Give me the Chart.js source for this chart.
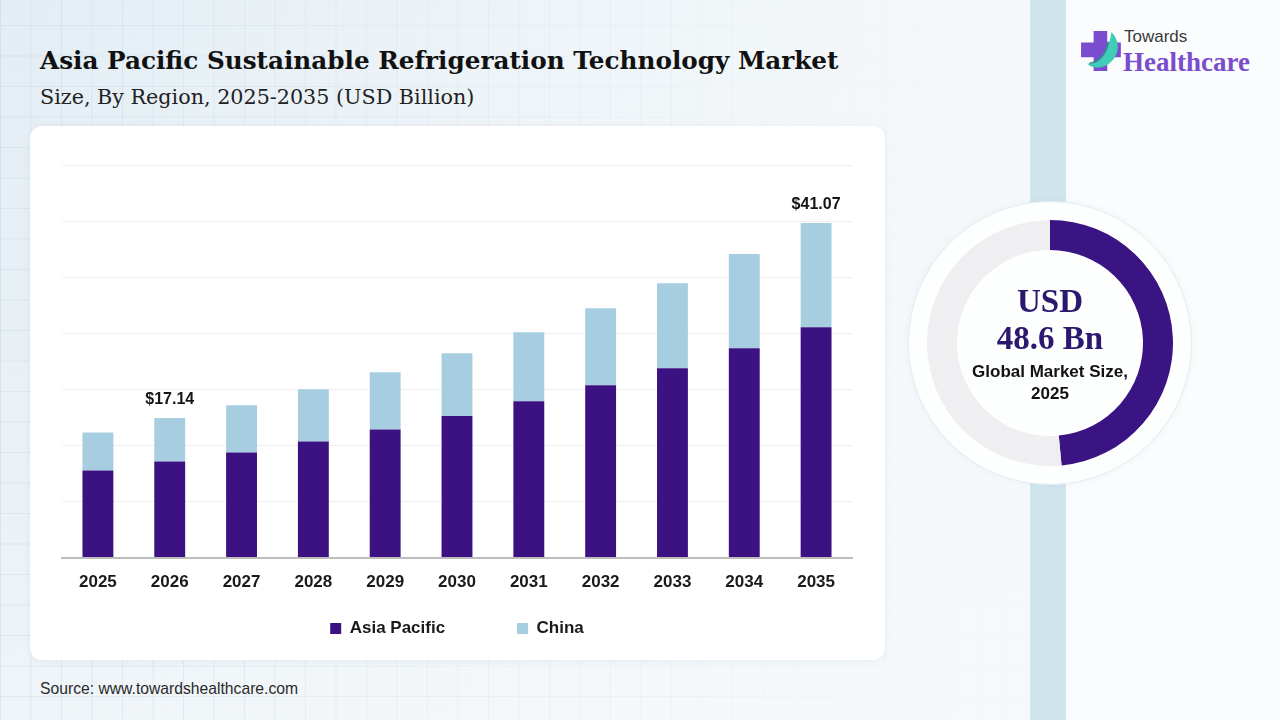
<!DOCTYPE html>
<html>
<head>
<meta charset="utf-8">
<script src="https://cdn.jsdelivr.net/npm/chart.js@4.4.1/dist/chart.umd.min.js"></script>
<style>
  body {
    margin: 0;
    width: 1280px;
    height: 720px;
    position: relative;
    overflow: hidden;
    background: #fafcfd;
    font-family: "Liberation Sans", Arial, sans-serif;
  }
  .left-bg {
    position: absolute; left: 0; top: 0; width: 1030px; height: 720px;
    background:
      linear-gradient(90deg, rgba(246,249,251,0) 0%, rgba(246,249,251,0.55) 60%, rgba(246,249,251,0.9) 100%),
      linear-gradient(rgba(190,208,220,0.35) 1px, transparent 1px) 0 25px / 30.5px 30.5px,
      linear-gradient(90deg, rgba(190,208,220,0.35) 1px, transparent 1px) 0 0 / 30.5px 30.5px,
      linear-gradient(160deg, #e2edf4 0%, #ebf2f7 45%, #f4f8fa 100%);
  }
  .band { position: absolute; left: 1030px; top: 0; width: 36px; height: 720px; background: #cfe5ec; }
  .title {
    position: absolute; left: 40px; top: 49px; margin: 0;
    font: bold 24.7px "DejaVu Serif", serif; line-height: 1; color: #111;
  }
  .subtitle {
    position: absolute; left: 40px; top: 87px; margin: 0;
    font: 20.7px "DejaVu Serif", serif; line-height: 1; color: #222;
  }
  .card {
    position: absolute; left: 30px; top: 126px; width: 855px; height: 534px;
    background: #fff; border-radius: 12px;
    box-shadow: 0 1px 6px rgba(120,140,160,0.12);
  }
  .bar-wrap { position: absolute; left: 30px; top: 126px; width: 855px; height: 521px; }
  .halo {
    position: absolute; left: 908px; top: 201px; width: 282px; height: 282px;
    border-radius: 50%; background: #fdfefe; border: 1px solid #e4edf1;
    box-shadow: 0 0 6px rgba(150,170,185,0.10);
  }
  .donut-wrap { position: absolute; left: 927px; top: 220px; width: 246px; height: 246px; }
  .center-text { position: absolute; left: 950px; width: 200px; text-align: center; line-height: 1; margin: 0; }
  .usd { top: 283px; font: bold 33px "Liberation Serif", serif; color: #2c186e; }
  .bn { top: 320px; font: bold 33px "Liberation Serif", serif; color: #2c186e; }
  .gl { top: 362px; font: bold 17px "Liberation Sans", Arial, sans-serif; color: #111; }
  .yr { top: 384px; font: bold 17px "Liberation Sans", Arial, sans-serif; color: #111; }
  .logo-towards { position: absolute; left: 1124px; top: 28px; font: 17px "Liberation Sans", Arial, sans-serif; color: #3a3a3a; line-height: 1; }
  .logo-health { position: absolute; left: 1123px; top: 49px; font: bold 27px "Liberation Serif", serif; color: #7a4dcf; line-height: 1; }
  .logo-mark { position: absolute; left: 1080px; top: 29px; }
  .source { position: absolute; left: 40px; top: 681px; font: 15.7px "Liberation Sans", Arial, sans-serif; color: #2a2a2a; line-height: 1; }
</style>
</head>
<body>
<div class="left-bg"></div>
<div class="band"></div>

<h1 class="title">Asia Pacific Sustainable Refrigeration Technology Market</h1>
<p class="subtitle">Size, By Region, 2025-2035 (USD Billion)</p>

<div class="card"></div>
<div class="bar-wrap"><canvas id="barChart"></canvas></div>

<div class="halo"></div>
<div class="donut-wrap"><canvas id="donutChart"></canvas></div>
<p class="center-text usd">USD</p>
<p class="center-text bn">48.6 Bn</p>
<p class="center-text gl">Global Market Size,</p>
<p class="center-text yr">2025</p>

<svg class="logo-mark" width="44" height="44" viewBox="0 0 42 42">
  <path d="M13 2 h13 v11 h13 v14 h-13 v13 h-13 v-13 h-12 v-14 h12 z" fill="#7a4dcf"/>
  <path d="M30 3 C40 12 38 30 22 36 C14 38 9 36 7 33 C16 34 26 28 30 3 z" fill="#3fcdb8"/>
  <path d="M9 33 C18 31 25 24 27 12" stroke="#2a8f8a" stroke-width="1.5" fill="none"/>
</svg>
<div class="logo-towards">Towards</div>
<div class="logo-health">Healthcare</div>

<div class="source">Source: www.towardshealthcare.com</div>

<script>
// Chart data (USD Billion)
const years = ["2025", "2026", "2027", "2028", "2029", "2030", "2031", "2032", "2033", "2034", "2035"];
const asiaPacific = [10.70, 11.80, 12.91, 14.26, 15.74, 17.37, 19.18, 21.15, 23.24, 25.70, 28.28];
const china = [4.67, 5.34, 5.78, 6.40, 7.01, 7.71, 8.49, 9.47, 10.45, 11.56, 12.79];
const labelledYears = ["2026", "2035"];

// Donut: share shown on the ring
const donutLabels = ["Asia Pacific", "Rest"];
const donutShare = [48.5, 51.5];

Chart.defaults.font.family = '"Liberation Sans", Arial, sans-serif';
Chart.defaults.animation = false;

// Total labels over selected bars
const totalLabels = {
  id: "totalLabels",
  afterDatasetsDraw(chart) {
    const ctx = chart.ctx;
    const meta = chart.getDatasetMeta(1);
    ctx.save();
    ctx.font = 'bold 16px "Liberation Sans", Arial, sans-serif';
    ctx.fillStyle = "#151515";
    ctx.textAlign = "center";
    ctx.textBaseline = "middle";
    years.forEach((y, i) => {
      if (!labelledYears.includes(y)) return;
      const bar = meta.data[i];
      const total = asiaPacific[i] + china[i];
      ctx.fillText("$" + total.toFixed(2), bar.x, bar.y - 18);
    });
    ctx.restore();
  }
};

const barCtx = document.getElementById("barChart").getContext("2d");
const barChart = new Chart(barCtx, {
  type: "bar",
  data: {
    labels: years,
    datasets: [
      { label: "Asia Pacific", data: asiaPacific, backgroundColor: "#3c1181", borderWidth: 0 },
      { label: "China", data: china, backgroundColor: "#a6cee0", borderWidth: 0 }
    ]
  },
  options: {
    responsive: true,
    maintainAspectRatio: false,
    layout: { padding: { top: 39, left: 32, right: 33, bottom: 0 } },
    datasets: { bar: { barPercentage: 0.43, categoryPercentage: 1 } },
    scales: {
      x: {
        stacked: true,
        grid: { display: false },
        border: { color: "#bdbdbd", width: 2 },
        ticks: { color: "#1a1a1a", padding: 7, font: { size: 17, weight: "bold" } }
      },
      y: {
        stacked: true,
        min: 0,
        max: 48.2,
        ticks: { display: false, count: 8 },
        grid: { color: "#efefef", drawTicks: false },
        border: { display: false }
      }
    },
    plugins: {
      tooltip: { enabled: false },
      legend: {
        position: "bottom",
        labels: {
          boxWidth: 11,
          boxHeight: 11,
          padding: 20,
          color: "#1a1a1a",
          font: { size: 17, weight: "bold" },
          generateLabels(chart) {
            const items = Chart.defaults.plugins.legend.labels.generateLabels(chart);
            items[0].text = items[0].text + "\u00a0".repeat(11);
            return items;
          }
        }
      }
    }
  },
  plugins: [totalLabels]
});

const donutCtx = document.getElementById("donutChart").getContext("2d");
const donutChart = new Chart(donutCtx, {
  type: "doughnut",
  data: {
    labels: donutLabels,
    datasets: [{
      data: donutShare,
      backgroundColor: ["#3a1483", "#efeff1"],
      borderWidth: 0
    }]
  },
  options: {
    responsive: true,
    maintainAspectRatio: false,
    cutout: "75.6%",
    events: [],
    plugins: { legend: { display: false }, tooltip: { enabled: false } }
  }
});
</script>
</body>
</html>
